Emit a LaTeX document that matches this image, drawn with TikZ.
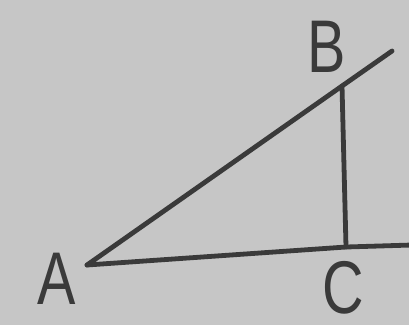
\documentclass[tikz,border=0pt]{standalone}
\usepackage{fontspec}
\setmainfont{Liberation Sans}
\definecolor{paper}{HTML}{C6C6C6}
\definecolor{ink}{HTML}{3A3A3A}
\begin{document}
\begin{tikzpicture}[x=0.75pt,y=-0.75pt,
  seg/.style={draw=ink,line width=3.6pt,line cap=round,line join=round},
  lab/.style={text=ink,font=\fontsize{56}{56}\selectfont,inner sep=0pt,xscale=0.77}]
\fill[paper] (0,0) rectangle (409,325);
\useasboundingbox (0,0) rectangle (409,325);
\coordinate (A) at (87,265);
\coordinate (B) at (342,86);
\coordinate (C) at (346,247);
\coordinate (Bx) at (392,51);
\coordinate (Cx) at (412,245);
\draw[seg] (A) -- (B) -- (Bx);
\draw[seg] (A) -- (C) -- (Cx);
\draw[seg] (B) -- (C);
\node[lab] (la) at (57,279) {A};
\node[lab] (lb) at (327,47) {B};
\node[lab] (lc) at (343,288) {C};
\end{tikzpicture}
\end{document}
